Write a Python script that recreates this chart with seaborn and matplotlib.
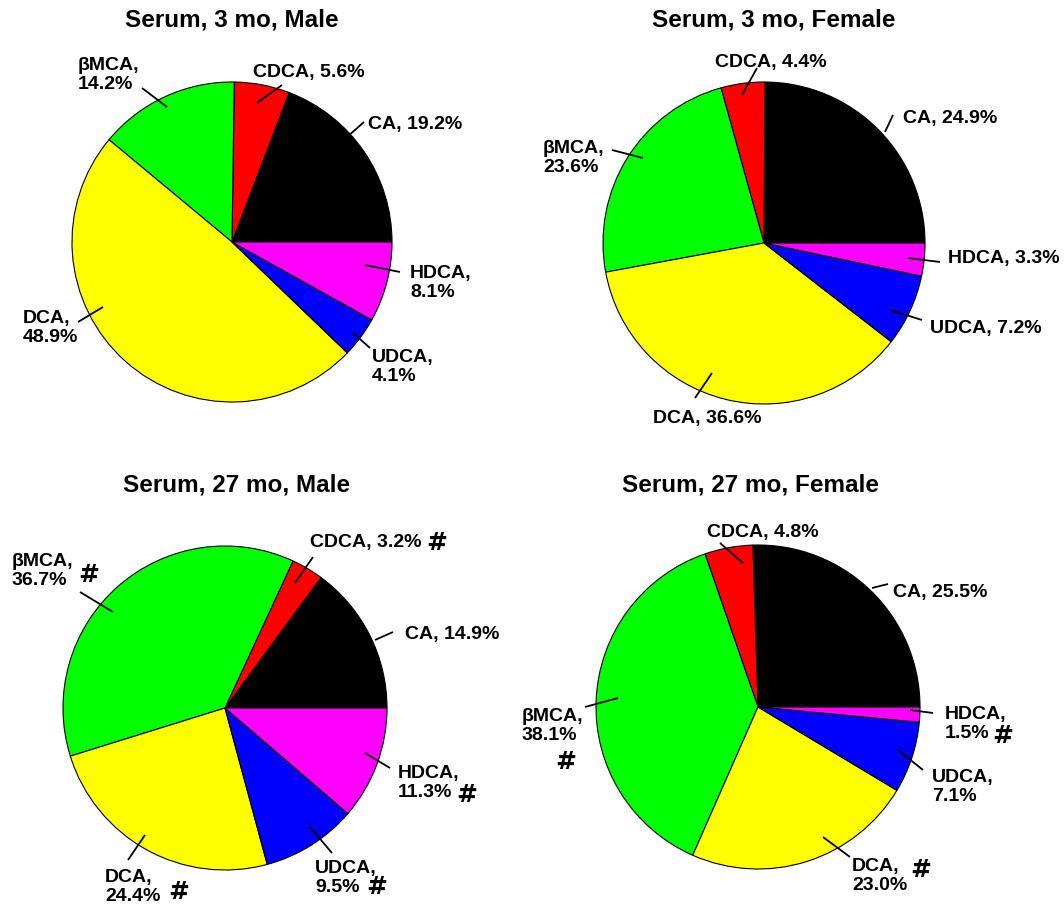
import matplotlib
matplotlib.use("Agg")
import matplotlib.pyplot as plt
import seaborn as sns

sns.set_theme(style="white")
plt.rcParams['font.family'] = ['Liberation Sans', 'DejaVu Sans']

# ---------------- data ----------------
acids = ["CA", "CDCA", "βMCA", "DCA", "UDCA", "HDCA"]
acid_colors = ["#000000", "#FF0000", "#00FF00", "#FFFF00", "#0000FF", "#FF00FF"]

panel_titles = ["Serum, 3 mo, Male", "Serum, 3 mo, Female",
                "Serum, 27 mo, Male", "Serum, 27 mo, Female"]

male_3mo = [19.2, 5.6, 14.2, 48.9, 4.1, 8.1]
female_3mo = [24.9, 4.4, 23.6, 36.6, 7.2, 3.3]
male_27mo = [14.9, 3.2, 36.7, 24.4, 9.5, 11.3]
female_27mo = [25.5, 4.8, 38.1, 23.0, 7.1, 1.5]

sig_male_3mo = []
sig_female_3mo = []
sig_male_27mo = ["CDCA", "βMCA", "DCA", "UDCA", "HDCA"]
sig_female_27mo = ["βMCA", "DCA", "HDCA"]

panel_values = [male_3mo, female_3mo, male_27mo, female_27mo]
panel_sigs = [sig_male_3mo, sig_female_3mo, sig_male_27mo, sig_female_27mo]

# ---------------- layout (pixel coordinates, y down) ----------------
W, H = 1064, 908
layouts = [
    dict(center=(232, 242), radius=160, title=(232, 20),
         labels={
             "CA":   dict(xy=(368, 125), two=False, leader=((347, 137), (364, 122))),
             "CDCA": dict(xy=(253, 73),  two=False, leader=((257, 103), (282, 85))),
             "βMCA": dict(xy=(78, 75),   two=True,  leader=((167, 107), (142, 88))),
             "DCA":  dict(xy=(23, 328),  two=True,  leader=((103, 307), (78, 322))),
             "UDCA": dict(xy=(372, 367), two=True,  leader=((352, 332), (370, 348))),
             "HDCA": dict(xy=(410, 283), two=True,  leader=((365, 265), (400, 272))),
         }),
    dict(center=(764, 243), radius=161, title=(774, 20),
         labels={
             "CA":   dict(xy=(903, 118), two=False, leader=((885, 132), (893, 115))),
             "CDCA": dict(xy=(715, 62),  two=False, leader=((742, 95), (757, 68))),
             "βMCA": dict(xy=(543, 158), two=True,  leader=((643, 158), (612, 150))),
             "DCA":  dict(xy=(653, 418), two=False, leader=((712, 373), (695, 398))),
             "UDCA": dict(xy=(930, 328), two=False, leader=((890, 310), (922, 320))),
             "HDCA": dict(xy=(948, 258), two=False, leader=((908, 258), (940, 262))),
         }),
    dict(center=(225, 708), radius=162, title=(237, 485),
         labels={
             "CA":   dict(xy=(405, 635), two=False, leader=((375, 640), (393, 632))),
             "CDCA": dict(xy=(310, 543), two=False, leader=((295, 583), (313, 557)), hash=(426, 543)),
             "βMCA": dict(xy=(12, 571),  two=True,  leader=((113, 612), (80, 592)), hash=(78, 575)),
             "DCA":  dict(xy=(105, 887), two=True,  leader=((145, 835), (128, 860)), hash=(168, 892)),
             "UDCA": dict(xy=(315, 878), two=True,  leader=((310, 827), (332, 853)), hash=(366, 887)),
             "HDCA": dict(xy=(398, 783), two=True,  leader=((365, 753), (390, 768)), hash=(456, 795)),
         }),
    dict(center=(758, 707), radius=162, title=(750, 485),
         labels={
             "CA":   dict(xy=(893, 592), two=False, leader=((872, 588), (888, 584))),
             "CDCA": dict(xy=(707, 533), two=False, leader=((743, 563), (720, 543))),
             "βMCA": dict(xy=(522, 726), two=True,  leader=((618, 698), (585, 707)), hash=(555, 762)),
             "DCA":  dict(xy=(852, 876), two=True,  leader=((823, 837), (850, 857)), hash=(910, 870)),
             "UDCA": dict(xy=(932, 787), two=True,  leader=((898, 750), (923, 770))),
             "HDCA": dict(xy=(945, 724), two=True,  leader=((910, 710), (933, 713)), hash=(992, 736)),
         }),
]


def Y(y):
    return H - y


fig = plt.figure(figsize=(W / 100, H / 100), dpi=100)
ax = fig.add_axes([0, 0, 1, 1])

for title, values, sigs, lay in zip(panel_titles, panel_values, panel_sigs, layouts):
    cx, cy = lay["center"]
    ax.pie(values, colors=acid_colors, startangle=0, counterclock=True,
           center=(cx, Y(cy)), radius=lay["radius"],
           wedgeprops=dict(edgecolor="black", linewidth=0.8))
    tx, ty = lay["title"]
    ax.text(tx, Y(ty), title, ha="center", va="center",
            fontsize=17.5, fontweight="bold", color="black")
    for acid, val in zip(acids, values):
        spec = lay["labels"][acid]
        sep = ",\n" if spec["two"] else ", "
        label = f"{acid}{sep}{val:.1f}%"
        lx, ly = spec["xy"]
        ax.text(lx, Y(ly), label, ha="left", va="center", fontsize=14,
                fontweight="bold", color="black", linespacing=1.1)
        (x1, y1), (x2, y2) = spec["leader"]
        ax.plot([x1, x2], [Y(y1), Y(y2)], color="black", lw=1.3,
                solid_capstyle="butt")
        if acid in sigs and "hash" in spec:
            hx, hy = spec["hash"]
            ax.text(hx, Y(hy), "#", ha="left", va="center", fontsize=18,
                    fontweight="bold", color="black",
                    family=["DejaVu Sans"])

ax.set_xlim(0, W)
ax.set_ylim(0, H)
ax.set_aspect("equal")
ax.axis("off")

fig.savefig("out.png", dpi=100, facecolor="white")
